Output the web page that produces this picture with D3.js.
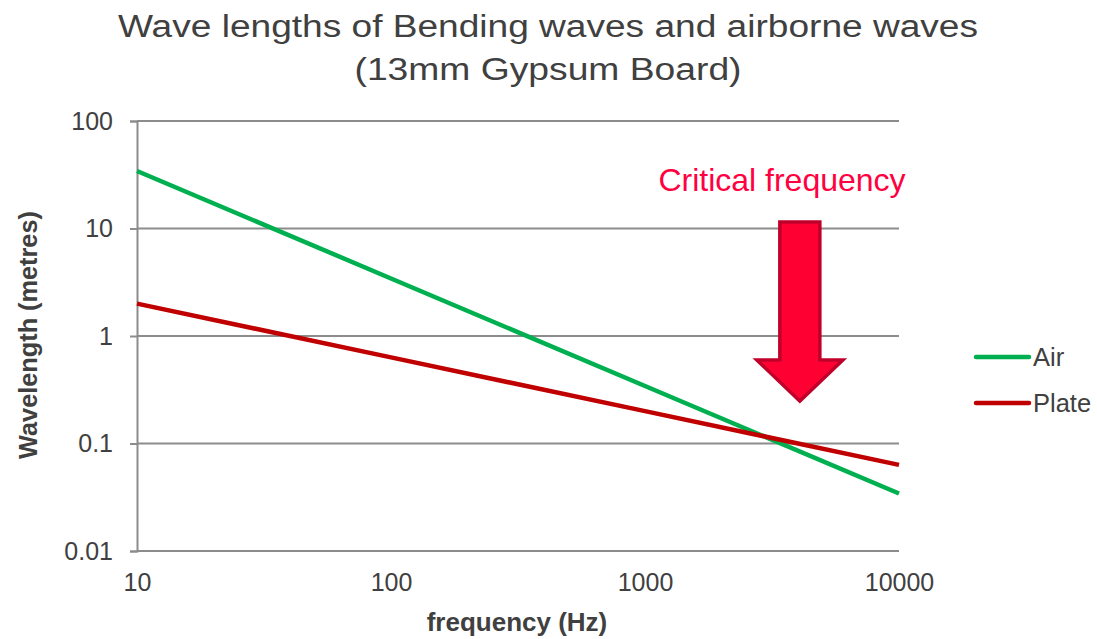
<!DOCTYPE html>
<html>
<head>
<meta charset="utf-8">
<script src="https://cdn.jsdelivr.net/npm/d3@7"></script>
<style>
  html, body { margin: 0; padding: 0; background: #fff; }
  svg { display: block; font-family: "Liberation Sans", Arial, sans-serif; }
</style>
</head>
<body>
<svg id="chart" width="1097" height="639"></svg>
<script>
// Frequencies (Hz) and wavelengths (m) for a 13mm gypsum board
const frequencies = [10, 100, 1000, 10000];
const airWavelength = [34.3, 3.43, 0.343, 0.0343];
const plateWavelength = [2.0, 0.632, 0.2, 0.0632];
const seriesNames = ["Air", "Plate"];
const xTickValues = [10, 100, 1000, 10000];
const yTickValues = [0.01, 0.1, 1, 10, 100];
const criticalFrequency = 4070;

const svg = d3.select("#chart");
const margin = { left: 137, right: 198, top: 121, bottom: 88 };
const W = 1097, H = 639;

const x = d3.scaleLog().domain([10, 10000]).range([margin.left, W - margin.right]);
const y = d3.scaleLog().domain([0.01, 100]).range([H - margin.bottom, margin.top]);

const gridColor = "#8c8c8c";
const textColor = "#404040";

// Title
svg.append("text")
  .attr("x", 548).attr("y", 37)
  .attr("text-anchor", "middle")
  .attr("font-size", 31).attr("fill", textColor)
  .attr("textLength", 860).attr("lengthAdjust", "spacingAndGlyphs")
  .text("Wave lengths of Bending waves and airborne waves");
svg.append("text")
  .attr("x", 548).attr("y", 80)
  .attr("text-anchor", "middle")
  .attr("font-size", 31).attr("fill", textColor)
  .attr("textLength", 387).attr("lengthAdjust", "spacingAndGlyphs")
  .text("(13mm Gypsum Board)");

// Horizontal gridlines
svg.append("g")
  .selectAll("line")
  .data(yTickValues)
  .join("line")
  .attr("x1", margin.left).attr("x2", W - margin.right)
  .attr("y1", d => y(d)).attr("y2", d => y(d))
  .attr("stroke", gridColor).attr("stroke-width", 2);

// Y axis
const yAxis = d3.axisLeft(y)
  .tickValues(yTickValues)
  .tickFormat(d => String(d))
  .tickSize(7)
  .tickPadding(17);
const gy = svg.append("g")
  .attr("transform", `translate(${margin.left},0)`)
  .call(yAxis);
gy.select(".domain").attr("stroke", gridColor).attr("stroke-width", 2);
gy.selectAll(".tick line").attr("stroke", gridColor).attr("stroke-width", 2);
gy.selectAll(".tick text")
  .attr("font-size", 25).attr("fill", textColor)
  .attr("font-family", "Liberation Sans, Arial, sans-serif");

// X axis (labels only, the bottom gridline serves as the axis line)
const xAxis = d3.axisBottom(x)
  .tickValues(xTickValues)
  .tickFormat(d => String(d))
  .tickSize(0)
  .tickPadding(22);
const gx = svg.append("g")
  .attr("transform", `translate(0,${H - margin.bottom})`)
  .call(xAxis);
gx.select(".domain").remove();
gx.selectAll(".tick text")
  .attr("font-size", 25).attr("fill", textColor)
  .attr("font-family", "Liberation Sans, Arial, sans-serif");

// Axis titles
svg.append("text")
  .attr("x", 517).attr("y", 631)
  .attr("text-anchor", "middle")
  .attr("font-size", 26).attr("font-weight", "bold").attr("fill", textColor)
  .text("frequency (Hz)");
svg.append("text")
  .attr("transform", `translate(37,335) rotate(-90)`)
  .attr("text-anchor", "middle")
  .attr("font-size", 25.3).attr("font-weight", "bold").attr("fill", textColor)
  .text("Wavelength (metres)");

// Series lines
const series = [
  { name: seriesNames[0], values: airWavelength, color: "#00b050" },
  { name: seriesNames[1], values: plateWavelength, color: "#c00000" }
];
const line = d3.line()
  .x((d, i) => x(frequencies[i]))
  .y(d => y(d));
svg.append("g")
  .selectAll("path")
  .data(series)
  .join("path")
  .attr("d", d => line(d.values))
  .attr("fill", "none")
  .attr("stroke", d => d.color)
  .attr("stroke-width", 4.5);

// Critical frequency annotation
const ax = x(criticalFrequency);
const shaftHalf = 20, headHalf = 43;
const shaftTop = 222, headTop = 360, tip = 401;
svg.append("path")
  .attr("d", `M${ax - shaftHalf},${shaftTop} L${ax + shaftHalf},${shaftTop} L${ax + shaftHalf},${headTop} L${ax + headHalf},${headTop} L${ax},${tip} L${ax - headHalf},${headTop} L${ax - shaftHalf},${headTop} Z`)
  .attr("fill", "#ff0033")
  .attr("stroke", "#c0002a")
  .attr("stroke-width", 3.5)
  .attr("stroke-linejoin", "miter");
svg.append("text")
  .attr("x", 782).attr("y", 191)
  .attr("text-anchor", "middle")
  .attr("font-size", 32).attr("fill", "#ff0040")
  .text("Critical frequency");

// Legend
const legend = svg.append("g");
series.forEach((s, i) => {
  const ly = 357 + i * 46;
  legend.append("line")
    .attr("x1", 976).attr("x2", 1029)
    .attr("y1", ly).attr("y2", ly)
    .attr("stroke", s.color).attr("stroke-width", 4.5)
    .attr("stroke-linecap", "round");
  legend.append("text")
    .attr("x", 1033).attr("y", ly + 9)
    .attr("font-size", 25.5).attr("fill", textColor)
    .text(s.name);
});
</script>
</body>
</html>
